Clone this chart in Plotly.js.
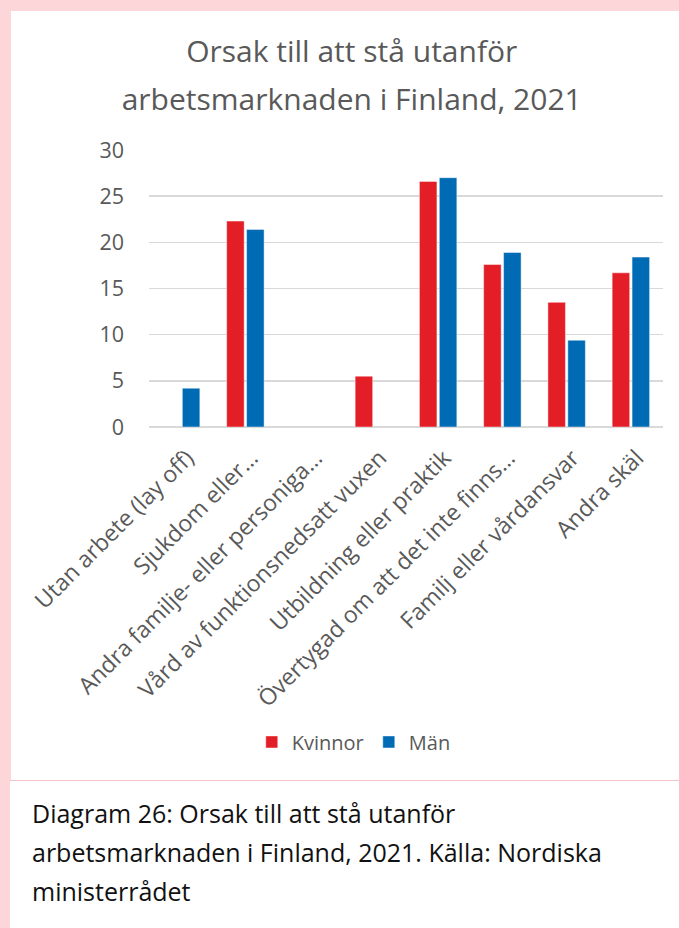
<!DOCTYPE html>
<html>
<head>
<meta charset="utf-8">
<script src="https://cdn.plot.ly/plotly-3.0.1.min.js"></script>
<style>
  html, body { margin: 0; padding: 0; width: 679px; height: 928px; overflow: hidden; background: #fdd6d9; }
  #panel { position: absolute; left: 11px; top: 11px; width: 668px; height: 770px; background: #ffffff; }
  #sep { position: absolute; left: 10px; top: 780px; width: 669px; height: 1px; background: #f6c3c8; }
  #capbox { position: absolute; left: 10px; top: 781px; width: 669px; height: 147px; background: #ffffff; }
  #caption { position: absolute; left: 32px; top: 794px; width: 645px; font-family: "Open Sans", sans-serif; font-size: 25px; line-height: 39px; color: #111111; }
  #chart { position: absolute; left: 0; top: 0; width: 679px; height: 781px; }
</style>
</head>
<body>
<div id="panel"></div>
<div id="sep"></div>
<div id="capbox"></div>
<div id="caption">Diagram 26: Orsak till att stå utanför<br>arbetsmarknaden i Finland, 2021. Källa: Nordiska<br>ministerrådet</div>
<div id="chart"></div>
<script>
const categories = [
  "Utan arbete (lay off)",
  "Sjukdom eller…",
  "Andra familje- eller personiga…",
  "Vård av funktionsnedsatt vuxen",
  "Utbildning eller praktik",
  "Övertygad om att det inte finns…",
  "Familj eller vårdansvar",
  "Andra skäl"
];
const kvinnor = [null, 22.3, null, 5.5, 26.6, 17.6, 13.5, 16.7];
const man = [4.2, 21.4, null, null, 27.0, 18.9, 9.4, 18.4];
const yTicks = [0, 5, 10, 15, 20, 25, 30];
const titleLines = ['Orsak till att stå utanför', 'arbetsmarknaden i Finland, 2021'];

const FONT = '"Open Sans", sans-serif';
const GREY = '#595959';

const traces = [
  { type: 'bar', name: 'Kvinnor', x: categories, y: kvinnor,
    marker: { color: '#e31e27', line: { color: 'rgba(255,255,255,0.45)', width: 1 } },
    hoverinfo: 'skip' },
  { type: 'bar', name: 'Män', x: categories, y: man,
    marker: { color: '#006bb5', line: { color: 'rgba(255,255,255,0.45)', width: 1 } },
    hoverinfo: 'skip' }
];

const layout = {
  width: 679, height: 781,
  paper_bgcolor: 'rgba(0,0,0,0)', plot_bgcolor: 'rgba(0,0,0,0)',
  margin: { l: 149, r: 16, t: 150, b: 354 },
  barmode: 'group', bargap: 0.38, bargroupgap: 0.12,
  font: { family: FONT, color: GREY, size: 18 },
  title: {
    text: titleLines.map(t => '<span style="font-size:30px">' + t + '</span>').join('<br>'),
    font: { family: FONT, size: 37, color: GREY },
    xref: 'container', x: 0.518, xanchor: 'center',
    yref: 'container', y: 0.921, yanchor: 'top'
  },
  xaxis: {
    type: 'category', tickangle: -45, showgrid: false, showline: false, zeroline: false,
    ticks: '', ticklabelstandoff: 12, ticklabelshift: 6,
    tickfont: { family: FONT, size: 23, color: GREY }, automargin: false
  },
  yaxis: {
    range: [0, 30], tickvals: yTicks, ticktext: yTicks.map(String),
    showgrid: true, gridcolor: '#d9d9d9', gridwidth: 1.5,
    zeroline: true, zerolinecolor: '#d9d9d9', zerolinewidth: 1.5,
    showline: false, ticks: '', ticklabelstandoff: 24,
    tickfont: { family: FONT, size: 21.5, color: GREY }, automargin: false
  },
  showlegend: true,
  legend: {
    orientation: 'h', xref: 'container', yref: 'container',
    x: 0.521, xanchor: 'center', y: 0.05, yanchor: 'middle',
    font: { family: FONT, size: 20, color: GREY },
    itemwidth: 30, traceorder: 'normal', bgcolor: 'rgba(0,0,0,0)'
  }
};

Plotly.newPlot('chart', traces, layout, { displayModeBar: false, staticPlot: true });
</script>
</body>
</html>
